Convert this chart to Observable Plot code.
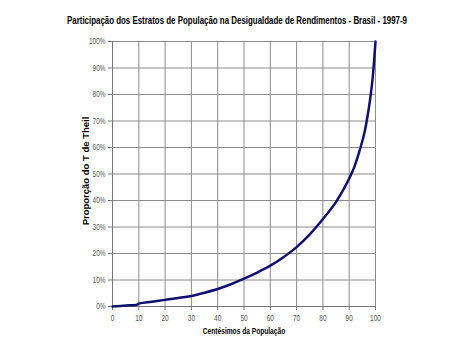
<!DOCTYPE html>
<html>
<head>
<meta charset="utf-8">
<script src="https://cdn.jsdelivr.net/npm/d3@7"></script>
<script src="https://cdn.jsdelivr.net/npm/@observablehq/plot@0.6"></script>
<style>
  body { margin: 0; background: #fff; width: 474px; height: 355px; overflow: hidden; }
  #title { height: 30px; position: relative; }
  #title span { position: absolute; left: 237px; top: 14px; white-space: nowrap;
    font: bold 10.5px "Liberation Sans", Arial, sans-serif; color: #000;
    transform-origin: 0 0; }
</style>
</head>
<body>
<div id="title"><span id="t"></span></div>
<div id="chart"></div>
<script>
const titleText = "Participação dos Estratos de População na Desigualdade de Rendimentos - Brasil - 1997-9";
const xLabel = "Centésimos da População";
const yLabel = "Proporção do T de Theil";
const centiles = [0, 5, 9, 10, 15, 20, 25, 30, 35, 40, 45, 50, 55, 60, 65, 70, 75, 80, 85, 88, 90, 92, 94, 96, 97, 98, 99, 100];
const share = [0, 0.004, 0.006, 0.011, 0.018, 0.025, 0.032, 0.040, 0.052, 0.066, 0.084, 0.105, 0.128, 0.154, 0.186, 0.224, 0.272, 0.33, 0.395, 0.445, 0.483, 0.528, 0.59, 0.665, 0.72, 0.785, 0.87, 1.0];
const xTicks = [0, 10, 20, 30, 40, 50, 60, 70, 80, 90, 100];
const yTicks = [0, 0.1, 0.2, 0.3, 0.4, 0.5, 0.6, 0.7, 0.8, 0.9, 1.0];

const data = centiles.map((c, i) => ({c, s: share[i]}));
const font = '"Liberation Sans", Arial, sans-serif';

const t = document.getElementById("t");
t.textContent = titleText;
const w = t.getBoundingClientRect().width;
t.style.transform = `scaleX(${340 / w}) translateX(-50%)`;

const chart = Plot.plot({
  width: 474,
  height: 325,
  marginTop: 11,
  marginBottom: 49,
  marginLeft: 112,
  marginRight: 99,
  style: {fontFamily: font, background: "#fff"},
  x: {domain: [0, 100]},
  y: {domain: [0, 1]},
  marks: [
    Plot.gridX(xTicks, {stroke: "#8c8c8c", strokeOpacity: 1, strokeWidth: 1}),
    Plot.gridY(yTicks, {stroke: "#8c8c8c", strokeOpacity: 1, strokeWidth: 1}),
    Plot.ruleX([0], {stroke: "#777"}),
    Plot.ruleY([0], {stroke: "#777"}),
    Plot.axisX(xTicks, {tickSize: 4, tickPadding: 4, fontSize: 9, color: "#555", stroke: "#777", label: null}),
    Plot.axisY(yTicks, {tickSize: 4, tickPadding: 3, fontSize: 9, color: "#555", stroke: "#777", label: null, tickFormat: d3.format(".0%")}),
    Plot.line(data, {x: "c", y: "s", stroke: "#10106e", strokeWidth: 2.5, curve: "monotone-x"}),
    Plot.text([xLabel], {frameAnchor: "bottom", dy: 27, text: d => d, fontWeight: "bold", fontSize: 8.5, fill: "#000", className: "hx"}),
    Plot.text([yLabel], {frameAnchor: "left", textAnchor: "middle", dx: -27, dy: -3, rotate: -90, text: d => d, fontWeight: "bold", fontSize: 9.5, fill: "#000", className: "vy"})
  ]
});
document.getElementById("chart").appendChild(chart);

// condense horizontal text (reference is horizontally compressed)
chart.querySelectorAll("text").forEach(el => {
  if (el.closest(".vy")) return;
  const S = el.closest(".hx") ? 0.78 : 0.72;
  const b = el.getBBox();
  const anchor = getComputedStyle(el).textAnchor;
  const ax = anchor === "end" ? b.x + b.width : anchor === "middle" ? b.x + b.width / 2 : b.x;
  const prev = el.getAttribute("transform") || "";
  el.setAttribute("transform", `${prev} translate(${ax},0) scale(${S},1) translate(${-ax},0)`);
});
</script>
</body>
</html>
